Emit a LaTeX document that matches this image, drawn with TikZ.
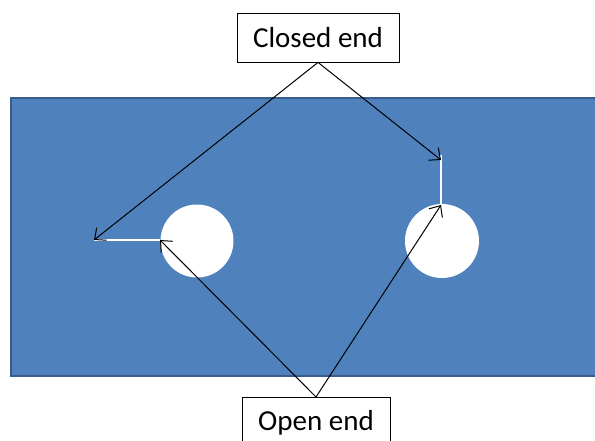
\documentclass[tikz,border=0pt]{standalone}
\usepackage{fontspec}
\setmainfont{Carlito}
\usetikzlibrary{arrows.meta}
\definecolor{plate}{HTML}{4F81BD}
\definecolor{plateborder}{HTML}{385D8A}
\tikzset{
  lbl/.style={draw=black, fill=white, line width=0.8pt, inner sep=0pt, font=\fontsize{29}{35}\selectfont},
  ptr/.style={draw=black, line width=1pt, -{Straight Barb[length=9pt,width=16pt]}},
  crack/.style={draw=white, line width=1.5pt},
  hole/.style={fill=white, draw=none}
}
\begin{document}
\begin{tikzpicture}[x=1pt,y=-1pt]
\useasboundingbox (0,0) rectangle (595,440);
\clip (0,0) rectangle (595,440);
\fill[white] (0,0) rectangle (595,440);
\draw[fill=plate, draw=plateborder, line width=2pt] (11,98) rectangle (610,376);
\fill[hole] (197,241) circle (36.5);
\fill[hole] (442,241) circle (37);
\coordinate (c1a) at (94,240);
\coordinate (c1b) at (160,240);
\coordinate (c2a) at (441,155);
\coordinate (c2b) at (441,205);
\draw[crack] (c1a) -- (c1b);
\draw[crack] (c2a) -- (c2b);
\node[lbl, minimum width=162pt, minimum height=49pt] (closed) at (318,37.5) {Closed end};
\node[lbl, minimum width=148pt, minimum height=50pt, anchor=north] (open) at (316,397) {Open end};
\draw[ptr] (closed.south) -- (c1a);
\draw[ptr] (closed.south) -- ([yshift=-5pt]c2a);
\draw[ptr] (open.north) -- (c1b);
\draw[ptr] (open.north) -- (c2b);
\end{tikzpicture}
\end{document}
